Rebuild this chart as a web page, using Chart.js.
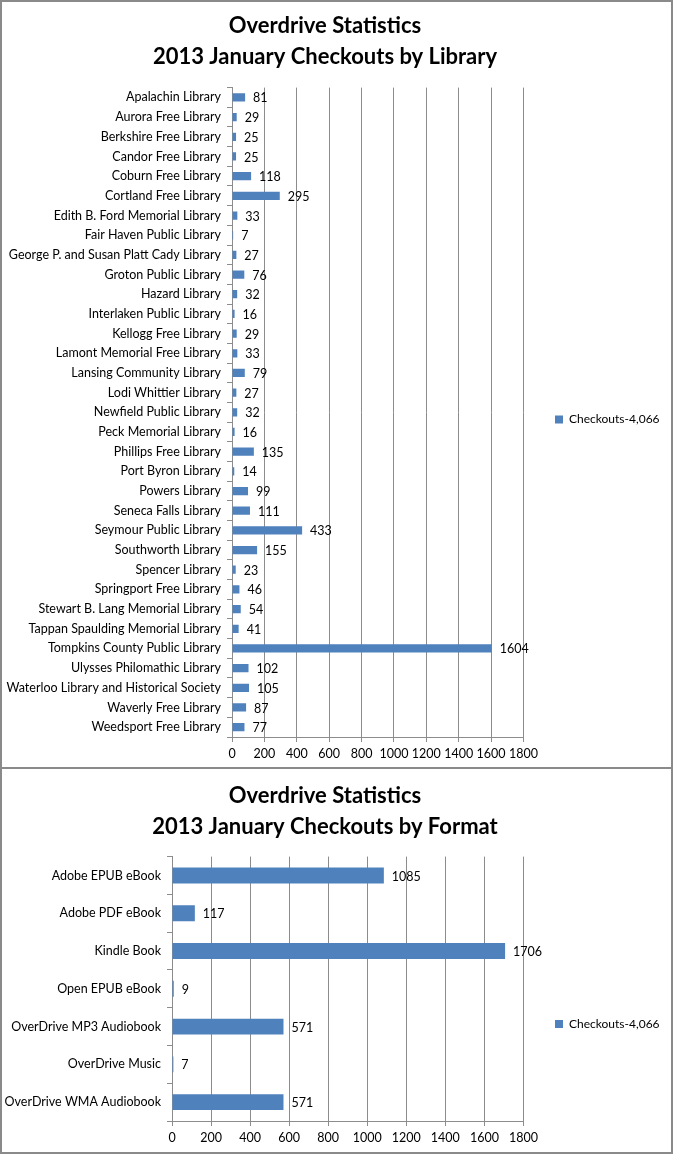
<!DOCTYPE html>
<html>
<head>
<meta charset="utf-8">
<script src="https://cdn.jsdelivr.net/npm/chart.js@4.4.0/dist/chart.umd.min.js"></script>
<style>
  html, body { margin: 0; padding: 0; background: #fff; }
  .box { position: absolute; left: 0; width: 673px; box-sizing: border-box; border: 2px solid #8a8a8a; background: #fff; }
  #box1 { top: 0; height: 769px; }
  #box2 { top: 767px; height: 387px; }
  canvas { display: block; }
</style>
</head>
<body>
<div class="box" id="box1"><canvas id="c1" width="669" height="765"></canvas></div>
<div class="box" id="box2"><canvas id="c2" width="669" height="383"></canvas></div>
<script>
const libraryCategories = [
  'Apalachin Library', 'Aurora Free Library', 'Berkshire Free Library', 'Candor Free Library',
  'Coburn Free Library', 'Cortland Free Library', 'Edith B. Ford Memorial Library',
  'Fair Haven Public Library', 'George P. and Susan Platt Cady Library', 'Groton Public Library',
  'Hazard Library', 'Interlaken Public Library', 'Kellogg Free Library', 'Lamont Memorial Free Library',
  'Lansing Community Library', 'Lodi Whittier Library', 'Newfield Public Library', 'Peck Memorial Library',
  'Phillips Free Library', 'Port Byron Library', 'Powers Library', 'Seneca Falls Library',
  'Seymour Public Library', 'Southworth Library', 'Spencer Library', 'Springport Free Library',
  'Stewart B. Lang Memorial Library', 'Tappan Spaulding Memorial Library', 'Tompkins County Public Library',
  'Ulysses Philomathic Library', 'Waterloo Library and Historical Society', 'Waverly Free Library',
  'Weedsport Free Library'
];
const libraryCheckouts = [81, 29, 25, 25, 118, 295, 33, 7, 27, 76, 32, 16, 29, 33, 79, 27, 32, 16, 135, 14, 99, 111, 433, 155, 23, 46, 54, 41, 1604, 102, 105, 87, 77];

const formatCategories = [
  'Adobe EPUB eBook', 'Adobe PDF eBook', 'Kindle Book', 'Open EPUB eBook',
  'OverDrive MP3 Audiobook', 'OverDrive Music', 'OverDrive WMA Audiobook'
];
const formatCheckouts = [1085, 117, 1706, 9, 571, 7, 571];

const xTickValues = [0, 200, 400, 600, 800, 1000, 1200, 1400, 1600, 1800];
const xTickLabels = ['0', '200', '400', '600', '800', '1000', '1200', '1400', '1600', '1800'];

const seriesLabel = 'Checkouts-4,066';
const libraryTitle = ['Overdrive Statistics', '2013 January Checkouts by Library'];
const formatTitle = ['Overdrive Statistics', '2013 January Checkouts by Format'];

const FONT = "Lato, 'Open Sans', sans-serif";
const BAR = '#4F81BD';
const GRID = '#8c8c8c';

const valueLabels = {
  id: 'valueLabels',
  afterDatasetsDraw(chart) {
    const ctx = chart.ctx;
    ctx.save();
    ctx.font = '12.5px ' + FONT;
    ctx.fillStyle = '#000';
    ctx.textAlign = 'left';
    ctx.textBaseline = 'middle';
    chart.data.datasets.forEach((ds, di) => {
      chart.getDatasetMeta(di).data.forEach((el, i) => {
        ctx.fillText(String(ds.data[i]), el.x + 8, el.y + 1);
      });
    });
    ctx.restore();
  }
};

// place the legend where the reference has it (box left edge / vertical offset)
const legendPlacer = {
  id: 'legendPlacer',
  afterLayout(chart, args, opts) {
    const lg = chart.legend;
    if (!lg) return;
    const w = lg.right - lg.left;
    lg.left = opts.left;
    lg.right = opts.left + w;
    const h = lg.bottom - lg.top;
    lg.top = lg.top + opts.dy;
    lg.bottom = lg.top + h;
  }
};

function makeChart(id, cats, vals, title, yWidth, barPct, pad, legendPos) {
  return new Chart(document.getElementById(id), {
    type: 'bar',
    data: {
      labels: cats,
      datasets: [{
        label: seriesLabel,
        data: vals,
        backgroundColor: BAR,
        borderWidth: 0,
        categoryPercentage: 1,
        barPercentage: barPct
      }]
    },
    options: {
      indexAxis: 'y',
      responsive: false,
      animation: false,
      devicePixelRatio: 1,
      layout: { padding: { top: 0, left: 0, right: pad.right, bottom: pad.bottom } },
      plugins: {
        title: {
          display: true,
          text: title,
          color: '#000',
          font: { family: FONT, size: 22, weight: 'bold', lineHeight: 1.4 },
          padding: { top: pad.titleTop, bottom: pad.titleBottom }
        },
        legend: {
          position: 'right',
          align: 'center',
          labels: {
            boxWidth: 8, boxHeight: 8, color: '#000',
            font: { family: FONT, size: 12 },
            padding: 10
          }
        },
        legendPlacer: legendPos,
        tooltip: { enabled: false }
      },
      scales: {
        x: {
          min: xTickValues[0], max: xTickValues[xTickValues.length - 1],
          afterBuildTicks(scale) { scale.ticks = xTickValues.map(v => ({ value: v })); },
          ticks: {
            color: '#000', font: { family: FONT, size: 12.5 }, padding: 4, maxRotation: 0, autoSkip: false,
            callback(value) { return xTickLabels[xTickValues.indexOf(value)]; }
          },
          grid: { color: GRID, lineWidth: 1, tickLength: 5, drawTicks: true },
          border: { color: GRID, width: 1 }
        },
        y: {
          ticks: { color: '#000', font: { family: FONT, size: 12.5 }, padding: 6, autoSkip: false },
          grid: { drawOnChartArea: false, color: GRID, tickLength: 5, offset: true },
          border: { color: GRID, width: 1 },
          afterFit(scale) { scale.width = yWidth; }
        }
      }
    },
    plugins: [valueLabels, legendPlacer]
  });
}

makeChart('c1', libraryCategories, libraryCheckouts, libraryTitle, 230, 0.42,
  { right: 23, bottom: 2, titleTop: 9, titleBottom: 15 }, { left: 543, dy: 36 });
makeChart('c2', formatCategories, formatCheckouts, formatTitle, 170, 0.42,
  { right: 23, bottom: 3, titleTop: 12, titleBottom: 14 }, { left: 543, dy: 65 });
</script>
</body>
</html>
